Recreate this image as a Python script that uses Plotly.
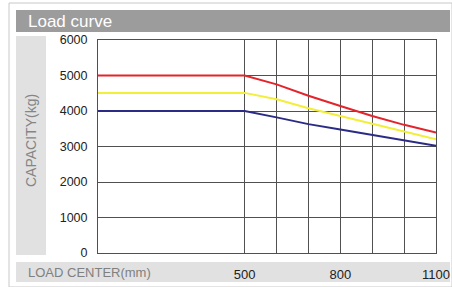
import plotly.graph_objects as go

load_center = [40, 500, 600, 700, 800, 900, 1000, 1100]
cap_red = [5000, 5000, 4750, 4430, 4140, 3860, 3610, 3390]
cap_yellow = [4510, 4510, 4330, 4080, 3860, 3630, 3420, 3200]
cap_blue = [4000, 4000, 3820, 3630, 3480, 3320, 3160, 3020]

x_grid = [500, 600, 700, 800, 900, 1000, 1100]
x_labels = ["500", "", "", "800", "", "", "1100"]
y_ticks = [0, 1000, 2000, 3000, 4000, 5000, 6000]

fig = go.Figure()
for ys, col in [(cap_red, "#e3242b"), (cap_yellow, "#f2ee3a"), (cap_blue, "#2b2b86")]:
    fig.add_trace(go.Scatter(x=load_center, y=ys, mode="lines",
                             line=dict(color=col, width=2), showlegend=False,
                             hoverinfo="skip"))

W, H = 452, 287
L, R, T, B = 98, 16, 40, 34
PW, PH = W - L - R, H - T - B
def px(x): return (x - L) / PW
def py(y): return (H - B - y) / PH

FONT = "Liberation Sans, Arial"
shapes = [
    dict(type="rect", xref="paper", yref="paper", x0=px(9), x1=px(452), y0=py(287), y1=py(3),
         line=dict(color="#c8c8c8", width=1), fillcolor="rgba(0,0,0,0)", layer="below"),
    dict(type="rect", xref="paper", yref="paper", x0=px(16), x1=px(450), y0=py(32), y1=py(10),
         line=dict(width=0), fillcolor="#9c9c9c", layer="below"),
    dict(type="rect", xref="paper", yref="paper", x0=px(16), x1=px(46), y0=py(255), y1=py(36),
         line=dict(width=0), fillcolor="#e1e1e1", layer="below"),
    dict(type="rect", xref="paper", yref="paper", x0=px(16), x1=px(450), y0=py(282), y1=py(262),
         line=dict(width=0), fillcolor="#e1e1e1", layer="below"),
]

annotations = [
    dict(text="Load curve", xref="paper", yref="paper", x=px(26), y=py(21), xanchor="left",
         yanchor="middle", showarrow=False, font=dict(family=FONT, size=17, color="white")),
    dict(text="CAPACITY(kg)", xref="paper", yref="paper", x=px(31), y=py(141), textangle=-90,
         xanchor="center", yanchor="middle",
         showarrow=False, font=dict(family=FONT, size=14, color="#858585")),
    dict(text="LOAD CENTER(mm)", xref="paper", yref="paper", x=px(26), y=py(272), xanchor="left",
         yanchor="middle", showarrow=False, font=dict(family=FONT, size=13, color="#808080")),
]

fig.update_layout(
    width=W, height=H,
    margin=dict(l=L, r=R, t=T, b=B, pad=0, autoexpand=False),
    paper_bgcolor="white", plot_bgcolor="white",
    shapes=shapes, annotations=annotations,
    font=dict(family=FONT, size=12, color="#222"),
    xaxis=dict(range=[40, 1100], tickvals=x_grid, ticktext=x_labels, automargin=False,
               showgrid=True, gridcolor="#505050", gridwidth=1, zeroline=False,
               showline=True, linecolor="#505050", linewidth=1, mirror=True,
               ticks="outside", ticklen=9, tickcolor="rgba(0,0,0,0)",
               tickfont=dict(size=13, color="#222")),
    yaxis=dict(range=[0, 6000], tickvals=y_ticks, showgrid=True, gridcolor="#505050",
               gridwidth=1, zeroline=False, showline=True, linecolor="#505050", automargin=False,
               linewidth=1, mirror=True, ticks="outside", ticklen=7,
               tickcolor="rgba(0,0,0,0)", tickfont=dict(size=12.5, color="#222")),
)

fig.write_html("out.html", config={"displayModeBar": False},
               post_script="document.body.style.margin='0';document.body.style.overflow='hidden';")
